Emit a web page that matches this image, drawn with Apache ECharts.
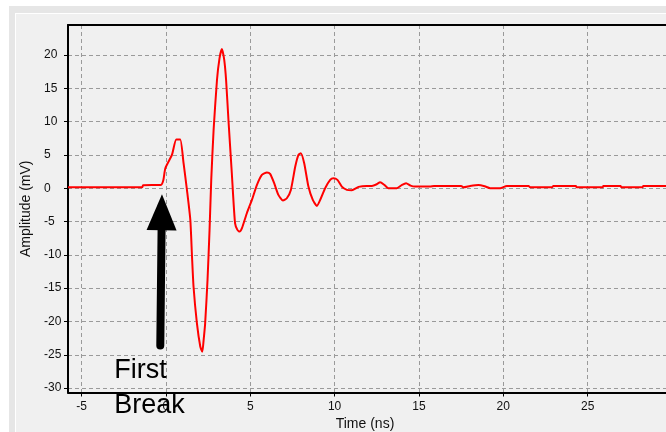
<!DOCTYPE html>
<html>
<head>
<meta charset="utf-8">
<script src="https://cdn.jsdelivr.net/npm/echarts@6/dist/echarts.min.js"></script>
<style>
  html, body { margin: 0; padding: 0; background: #fff; }
  #chart { width: 666px; height: 432px; }
</style>
</head>
<body>
<div id="chart"></div>
<script>
// waveform, time in ns, amplitude in mV
const timeNs = [
  -5.8, -1.4, -1.35, -0.3, -0.15, -0.03, 0.36, 0.62, 0.85, 1.05,
  1.25, 1.45, 1.55, 1.64, 1.84, 2.04, 2.16, 2.24, 2.33, 2.47,
  2.59, 2.69, 2.83, 3.03, 3.18, 3.32, 3.46, 3.57, 3.71, 3.91,
  4.1, 4.24, 4.37, 4.51, 4.8, 5.1, 5.4, 5.69, 5.99, 6.18,
  6.42, 6.67, 6.94, 7.17, 7.41, 7.67, 7.86, 8.0, 8.2, 8.45,
  8.71, 8.95, 9.19, 9.44, 9.74, 9.93, 10.17, 10.43, 10.73, 11.02,
  11.42, 11.91, 12.21, 12.5, 12.7, 12.95, 13.19, 13.69, 14.0, 14.24,
  14.5, 14.77, 15.66, 15.9, 17.5, 17.64, 18.03, 18.53, 18.9, 19.22,
  19.81, 20.21, 21.5, 21.59, 22.9, 22.97, 24.3, 24.35, 25.9, 25.93,
  26.95, 27.0, 28.25, 28.3, 29.6, 30
];
const amplitudeMv = [
  0.15, 0.15, 0.45, 0.5, 1.2, 3.0, 5.0, 7.3, 7.3, 3.75,
  -0.25, -4.75, -10.25, -14.75, -20.25, -23.75, -24.55, -22.75, -20.25, -13.75,
  -6.25, 1.25, 8.75, 16.25, 19.5, 20.9, 19.25, 16.25, 10.25, 2.25,
  -5.25, -6.25, -6.5, -6.0, -3.75, -1.75, 0.5, 2.0, 2.35, 2.15,
  0.75, -1.0, -1.85, -1.5, -0.25, 3.25, 5.0, 5.25, 3.75, 0.25,
  -1.75, -2.65, -1.5, 0, 1.25, 1.5, 1.25, 0.25, -0.25, -0.3,
  0.2, 0.35, 0.35, 0.6, 0.9, 0.5, 0.0, 0.0, 0.5, 0.75,
  0.4, 0.25, 0.25, 0.35, 0.35, 0.15, 0.35, 0.5, 0.3, 0.0,
  0.0, 0.35, 0.35, 0.15, 0.15, 0.35, 0.35, 0.15, 0.15, 0.35,
  0.35, 0.15, 0.15, 0.35, 0.35, 0.3
];

const xRange = [-5.8, 30];
const yRange = [-30.66, 24.5];

// "First Break" annotation, in data units
const arrowTail = [-0.33, -23.6];
const arrowTip = [-0.23, -0.9];
const noteAnchor = [-3.06, -24.8];
const noteText = 'First\nBreak';

const chart = echarts.init(document.getElementById('chart'));

const fontFamily = '"Liberation Sans", Arial, sans-serif';
const axisFont = { color: '#111', fontFamily: fontFamily, fontSize: 12 };
const gridLine = { lineStyle: { color: '#9a9a9a', width: 1, type: [4, 3] } };
const blackLine = { lineStyle: { color: '#000', width: 2 } };

chart.setOption({
  animation: false,
  grid: {
    left: 68, top: 25, right: -6, bottom: 39.5,
    outerBoundsMode: 'none',
    containLabel: false
  },
  xAxis: [{
    type: 'value',
    min: xRange[0], max: xRange[1],
    splitNumber: 7,
    name: 'Time (ns)',
    nameLocation: 'middle',
    nameGap: 20,
    nameTextStyle: { color: '#111', fontFamily: fontFamily, fontSize: 14, padding: [0, 10, 0, 0] },
    axisLine: Object.assign({ onZero: false }, blackLine),
    axisTick: { show: true, length: 4, lineStyle: { color: '#000' } },
    axisLabel: Object.assign({ margin: 8, showMinLabel: false, showMaxLabel: false }, axisFont),
    splitLine: Object.assign({ show: true }, gridLine)
  }, {
    // plain top frame line
    type: 'value', position: 'top',
    min: xRange[0], max: xRange[1],
    axisLine: Object.assign({ onZero: false }, blackLine),
    axisTick: { show: false },
    axisLabel: { show: false },
    splitLine: { show: false }
  }],
  yAxis: {
    type: 'value',
    min: yRange[0], max: yRange[1],
    splitNumber: 11,
    name: 'Amplitude (mV)',
    nameLocation: 'middle',
    nameGap: 27,
    nameTextStyle: { color: '#111', fontFamily: fontFamily, fontSize: 14 },
    axisLine: Object.assign({ onZero: false }, blackLine),
    axisTick: { show: true, length: 4, lineStyle: { color: '#000' } },
    axisLabel: Object.assign({ margin: 24, align: 'left', showMinLabel: false, showMaxLabel: false }, axisFont),
    splitLine: Object.assign({ show: true }, gridLine)
  },
  series: [{
    type: 'line',
    data: timeNs.map((t, i) => [t, amplitudeMv[i]]),
    showSymbol: false,
    smooth: 0.2,
    lineStyle: { color: '#ff0000', width: 2 },
    clip: true
  }]
});

// arrow + label placed through the axes' own scales
const tail = chart.convertToPixel({ gridIndex: 0 }, arrowTail);
const tip = chart.convertToPixel({ gridIndex: 0 }, arrowTip);
const note = chart.convertToPixel({ gridIndex: 0 }, noteAnchor);
const headLen = 36, headHalf = 15;
const dx = tip[0] - tail[0], dy = tip[1] - tail[1];
const len = Math.sqrt(dx * dx + dy * dy);
const ux = dx / len, uy = dy / len;
const bx = tip[0] - ux * headLen, by = tip[1] - uy * headLen;

chart.setOption({
  graphic: [
    { type: 'rect', z: -10, shape: { x: 9, y: 6, width: 700, height: 500 }, style: { fill: '#e6e6e6' } },
    { type: 'rect', z: -9, shape: { x: 15, y: 13, width: 700, height: 500 }, style: { fill: '#ffffff' } },
    { type: 'rect', z: -8, shape: { x: 16, y: 14, width: 700, height: 500 }, style: { fill: '#f0f0f0' } },
    {
      type: 'line', z: 100,
      shape: { x1: tail[0], y1: tail[1], x2: bx + ux * 2, y2: by + uy * 2 },
      style: { stroke: '#000', lineWidth: 8, lineCap: 'round' }
    },
    {
      type: 'polygon', z: 100,
      shape: { points: [tip, [bx - uy * headHalf, by + ux * headHalf], [bx + uy * headHalf, by - ux * headHalf]] },
      style: { fill: '#000' }
    },
    {
      type: 'text', z: 100, x: note[0], y: note[1],
      style: {
        text: noteText, fill: '#000',
        font: '27px ' + fontFamily,
        lineHeight: 34.5, align: 'left', verticalAlign: 'top'
      }
    }
  ]
});
</script>
</body>
</html>
